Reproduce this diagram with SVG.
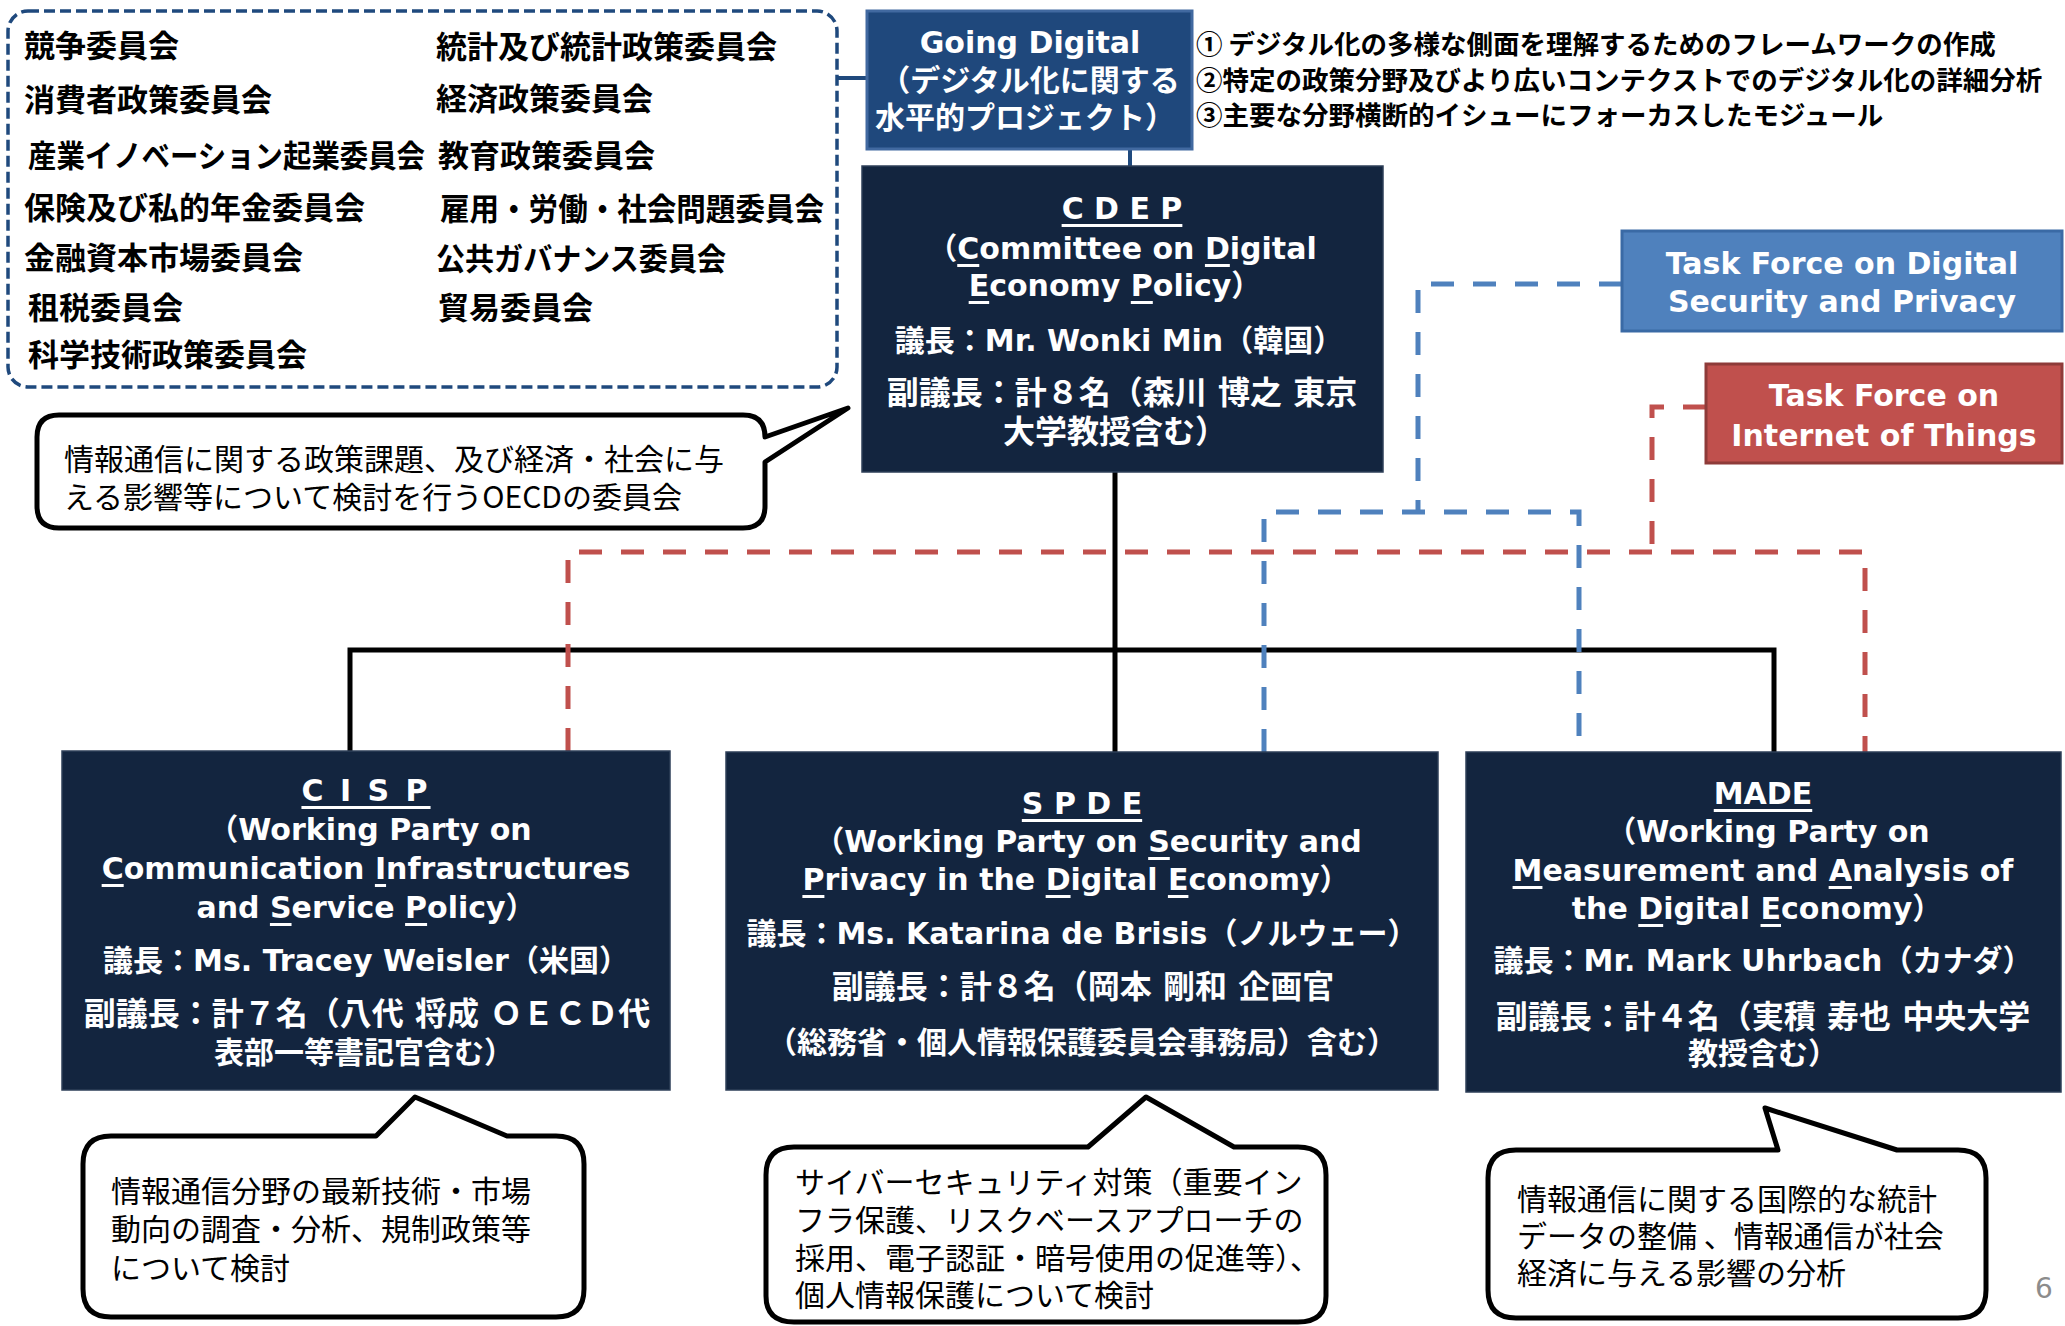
<svg xmlns="http://www.w3.org/2000/svg" width="2065" height="1326" viewBox="0 0 2065 1326">
<style>
.cm{font-family:"Noto Sans CJK JP",sans-serif;font-weight:bold;font-size:31px;fill:#000;dominant-baseline:central}
.bt{font-family:"DejaVu Sans","Noto Sans CJK JP",sans-serif;font-weight:bold;font-size:30px;fill:#fff;text-anchor:middle;dominant-baseline:central}
.jl{font-size:32px}
.nv{fill:#13253F;stroke:#2E3F58;stroke-width:1.5}
.ct{font-family:"Noto Sans CJK JP",sans-serif;font-size:30px;fill:#000;dominant-baseline:central}
.nt{font-family:"Noto Sans CJK JP",sans-serif;font-weight:bold;font-size:26.5px;fill:#000;dominant-baseline:central}
.bub{fill:#fff;stroke:#000;stroke-width:5;stroke-linejoin:round}
.u{text-decoration:underline}
.blk{fill:none;stroke:#000;stroke-width:5}
.bd{fill:none;stroke:#4F81BD;stroke-width:5;stroke-dasharray:23 19}
.rd{fill:none;stroke:#C0504D;stroke-width:5;stroke-dasharray:23 19}
</style>

<g id="connectors">
  <line x1="838" y1="78" x2="867" y2="78" stroke="#1F497D" stroke-width="4"/>
  <line x1="1130" y1="150" x2="1130" y2="166" stroke="#1F497D" stroke-width="4"/>
  <path class="blk" d="M1115,472 V752"/>
  <path class="blk" d="M350,751 V650 H1774 V752"/>
  <path class="bd" d="M1622,284 H1418 V512"/>
  <path class="bd" d="M1264,752 V512 H1579 V752"/>
  <path class="rd" d="M1706,407 H1652 V552"/>
  <path class="rd" d="M568,751 V552 H1865 V752"/>
</g>

<g id="committees">
  <rect x="8" y="11" width="829" height="376" rx="20" fill="#fff" stroke="#1F497D" stroke-width="3.5" stroke-dasharray="11 5"/>
  <text class="cm" x="24" y="43">競争委員会</text>
  <text class="cm" x="24" y="97">消費者政策委員会</text>
  <text class="cm" x="28" y="153" textLength="397" lengthAdjust="spacingAndGlyphs">産業イノベーション起業委員会</text>
  <text class="cm" x="24" y="205">保険及び私的年金委員会</text>
  <text class="cm" x="24" y="255">金融資本市場委員会</text>
  <text class="cm" x="28" y="305">租税委員会</text>
  <text class="cm" x="28" y="352">科学技術政策委員会</text>
  <text class="cm" x="436" y="44">統計及び統計政策委員会</text>
  <text class="cm" x="436" y="96">経済政策委員会</text>
  <text class="cm" x="438" y="153">教育政策委員会</text>
  <text class="cm" x="440" y="206" textLength="384" lengthAdjust="spacingAndGlyphs">雇用・労働・社会問題委員会</text>
  <text class="cm" x="436" y="256" textLength="290" lengthAdjust="spacingAndGlyphs">公共ガバナンス委員会</text>
  <text class="cm" x="438" y="305">貿易委員会</text>
</g>

<g id="going-digital">
  <rect x="867" y="11" width="325" height="138" fill="#1F487C" stroke="#4169A0" stroke-width="3"/>
  <text class="bt" x="1030" y="42" font-size="30">Going Digital</text>
  <text class="bt" x="1030" y="80" font-size="27">（デジタル化に関する</text>
  <text class="bt" x="1025" y="117" font-size="27">水平的プロジェクト）</text>
</g>

<g id="going-digital-notes">
  <text class="nt" x="1196" y="42">① デジタル化の多様な側面を理解するためのフレームワークの作成</text>
  <text class="nt" x="1196" y="78">②特定の政策分野及びより広いコンテクストでのデジタル化の詳細分析</text>
  <text class="nt" x="1196" y="113">③主要な分野横断的イシューにフォーカスしたモジュール</text>
</g>

<g id="cdep">
  <rect class="nv" x="862" y="166" width="521" height="306"/>
  <text class="bt" x="1122" y="208"><tspan class="u">C D E P</tspan></text>
  <text class="bt" x="1122" y="248">（<tspan class="u">C</tspan>ommittee on <tspan class="u">D</tspan>igital</text>
  <text class="bt" x="1115" y="285"><tspan class="u">E</tspan>conomy <tspan class="u">P</tspan>olicy）</text>
  <text class="bt" x="1119" y="340" font-size="31.5">議長：Mr. Wonki Min（韓国）</text>
  <text class="bt jl" x="1122" y="393">副議長：計８名（森川 博之 東京</text>
  <text class="bt jl" x="1115" y="432">大学教授含む）</text>
</g>

<g id="tf-digital">
  <rect x="1622" y="231" width="440" height="100" fill="#4F81BD" stroke="#3A6AA5" stroke-width="3"/>
  <text class="bt" x="1842" y="263">Task Force on Digital</text>
  <text class="bt" x="1842" y="301">Security and Privacy</text>
</g>

<g id="tf-iot">
  <rect x="1706" y="364" width="356" height="99" fill="#C0504D" stroke="#8E3B39" stroke-width="3"/>
  <text class="bt" x="1884" y="395">Task Force on</text>
  <text class="bt" x="1884" y="435" font-size="30.5">Internet of Things</text>
</g>

<g id="cisp">
  <rect class="nv" x="62" y="751" width="608" height="339"/>
  <text class="bt" x="366" y="790" letter-spacing="3"><tspan class="u">C I S P</tspan></text>
  <text class="bt" x="370" y="829">（Working Party on</text>
  <text class="bt" x="366" y="868"><tspan class="u">C</tspan>ommunication <tspan class="u">I</tspan>nfrastructures</text>
  <text class="bt" x="366" y="907">and <tspan class="u">S</tspan>ervice <tspan class="u">P</tspan>olicy）</text>
  <text class="bt" x="366" y="960" font-size="30.8">議長：Ms. Tracey Weisler（米国）</text>
  <text class="bt jl" x="367" y="1014">副議長：計７名（八代 将成 ＯＥＣＤ代</text>
  <text class="bt" x="364" y="1052" font-size="31.5">表部一等書記官含む）</text>
</g>

<g id="spde">
  <rect class="nv" x="726" y="752" width="712" height="338"/>
  <text class="bt" x="1082" y="803"><tspan class="u">S P D E</tspan></text>
  <text class="bt" x="1088" y="841">（Working Party on <tspan class="u">S</tspan>ecurity and</text>
  <text class="bt" x="1076" y="879"><tspan class="u">P</tspan>rivacy in the <tspan class="u">D</tspan>igital <tspan class="u">E</tspan>conomy）</text>
  <text class="bt" x="1082" y="933" font-size="29.2">議長：Ms. Katarina de Brisis（ノルウェー）</text>
  <text class="bt jl" x="1083" y="987">副議長：計８名（岡本 剛和 企画官</text>
  <text class="bt" x="1082" y="1042" font-size="31.2">（総務省・個人情報保護委員会事務局）含む）</text>
</g>

<g id="made">
  <rect class="nv" x="1466" y="752" width="595" height="340"/>
  <text class="bt" x="1763" y="793" font-size="30.6"><tspan class="u">MADE</tspan></text>
  <text class="bt" x="1768" y="831">（Working Party on</text>
  <text class="bt" x="1763" y="870"><tspan class="u">M</tspan>easurement and <tspan class="u">A</tspan>nalysis of</text>
  <text class="bt" x="1757" y="908">the <tspan class="u">D</tspan>igital <tspan class="u">E</tspan>conomy）</text>
  <text class="bt" x="1763" y="960">議長：Mr. Mark Uhrbach（カナダ）</text>
  <text class="bt jl" x="1763" y="1017">副議長：計４名（実積 寿也 中央大学</text>
  <text class="bt" x="1763" y="1053" font-size="31.5">教授含む）</text>
</g>

<g id="note-cdep">
  <path class="bub" d="M59,415 H743 Q765,415 765,437 L848,408 L765,462 V506 Q765,528 743,528 H59 Q37,528 37,506 V437 Q37,415 59,415 Z"/>
  <text class="ct" x="64" y="457">情報通信に関する政策課題、及び経済・社会に与</text>
  <text class="ct" x="64" y="495">える影響等について検討を行うOECDの委員会</text>
</g>

<g id="note-cisp">
  <path class="bub" d="M111,1136 H376 L415,1097 L507,1136 H556 Q584,1136 584,1164 V1289 Q584,1317 556,1317 H111 Q83,1317 83,1289 V1164 Q83,1136 111,1136 Z"/>
  <text class="ct" x="111" y="1189">情報通信分野の最新技術・市場</text>
  <text class="ct" x="111" y="1227">動向の調査・分析、規制政策等</text>
  <text class="ct" x="111" y="1266">について検討</text>
</g>

<g id="note-spde">
  <path class="bub" d="M794,1147 H1088 L1146,1097 L1234,1147 H1298 Q1326,1147 1326,1175 V1296 Q1326,1322 1298,1322 H794 Q766,1322 766,1296 V1175 Q766,1147 794,1147 Z"/>
  <text class="ct" x="795" y="1180">サイバーセキュリティ対策（重要イン</text>
  <text class="ct" x="795" y="1218">フラ保護、リスクベースアプローチの</text>
  <text class="ct" x="795" y="1256">採用、電子認証・暗号使用の促進等）、</text>
  <text class="ct" x="795" y="1293">個人情報保護について検討</text>
</g>

<g id="note-made">
  <path class="bub" d="M1516,1150 H1778 L1765,1108 L1897,1150 H1958 Q1986,1150 1986,1178 V1290 Q1986,1318 1958,1318 H1516 Q1488,1318 1488,1290 V1178 Q1488,1150 1516,1150 Z"/>
  <text class="ct" x="1517" y="1197">情報通信に関する国際的な統計</text>
  <text class="ct" x="1517" y="1234">データの整備 、情報通信が社会</text>
  <text class="ct" x="1517" y="1271">経済に与える影響の分析</text>
</g>

<text x="2044" y="1288" font-family="DejaVu Sans, sans-serif" font-size="28" fill="#8C8C8C" text-anchor="middle" dominant-baseline="central">6</text>
</svg>
